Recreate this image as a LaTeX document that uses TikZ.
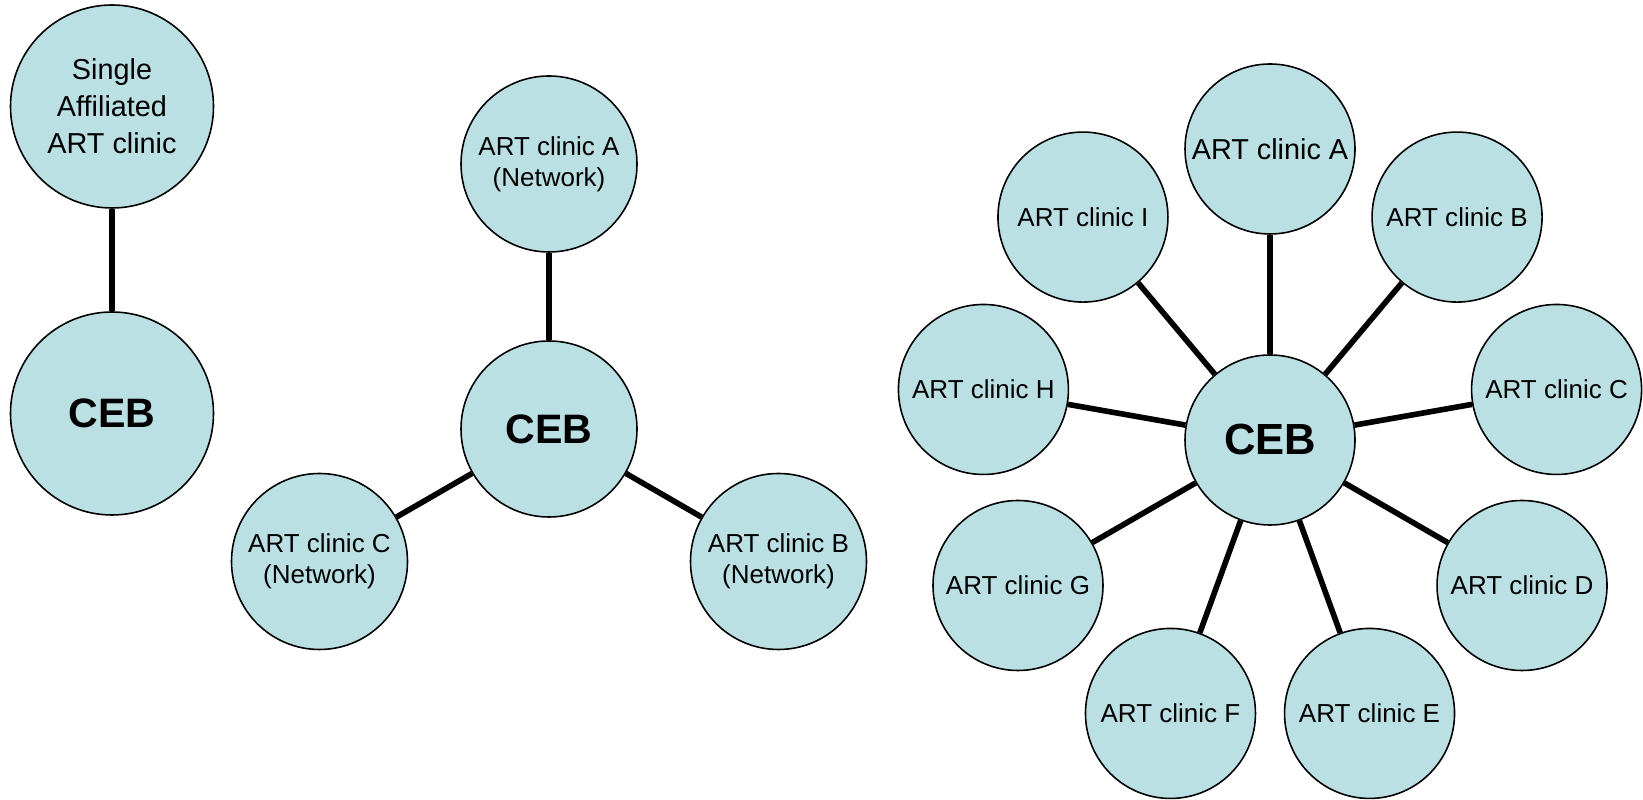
\documentclass[tikz,border=0pt]{standalone}
\usepackage{fontspec}
\setmainfont{Liberation Sans}
\usepackage{tikz}
\usetikzlibrary{calc}
\definecolor{clinicfill}{HTML}{BBE0E3}

\begin{document}
\begin{tikzpicture}[
  clinic/.style={circle,draw=black,line width=0.45pt,fill=clinicfill,inner sep=0pt,align=center,
    minimum size=1.70cm,font=\fontsize{7.4}{8.8}\selectfont},
  midclinic/.style={clinic,minimum size=1.76cm},
  bigclinic/.style={clinic,minimum size=2.03cm,font=\fontsize{8.2}{10.5}\selectfont},
  hub/.style={font=\bfseries\fontsize{12.4}{14}\selectfont},
  link/.style={line width=1.6pt}]
\useasboundingbox (0,0) rectangle (16.43,8.00);

\node[bigclinic] (single) at (1.12,6.935) {Single\\Affiliated\\ART clinic};
\node[bigclinic,hub,font=\bfseries\fontsize{11.7}{13}\selectfont] (lceb) at (1.12,3.865) {CEB};
\draw[link] (single) -- (lceb);

\node[midclinic,hub,font=\bfseries\fontsize{11.7}{13}\selectfont] (mceb) at (5.49,3.71) {CEB};
\node[midclinic] (mA) at ($(mceb)+(90:2.65)$) {ART clinic A\\(Network)};
\node[midclinic] (mB) at ($(mceb)+(-30:2.65)$) {ART clinic B\\(Network)};
\node[midclinic] (mC) at ($(mceb)+(210:2.65)$) {ART clinic C\\(Network)};
\foreach \l in {A,B,C}
  \draw[link] (mceb) -- (m\l);

\node[clinic,hub] (rceb) at (12.70,3.60) {CEB};
\node[clinic,font=\fontsize{8.2}{9}\selectfont] (rA) at ($(rceb)+(90:2.91)$) {ART clinic A};
\foreach \l [count=\i] in {B,C,D,E,F,G,H,I}
  \node[clinic] (r\l) at ($(rceb)+({90-40*\i}:2.91)$) {ART clinic \l};
\foreach \l in {A,B,C,D,E,F,G,H,I}
  \draw[link] (rceb) -- (r\l);
\end{tikzpicture}
\end{document}
